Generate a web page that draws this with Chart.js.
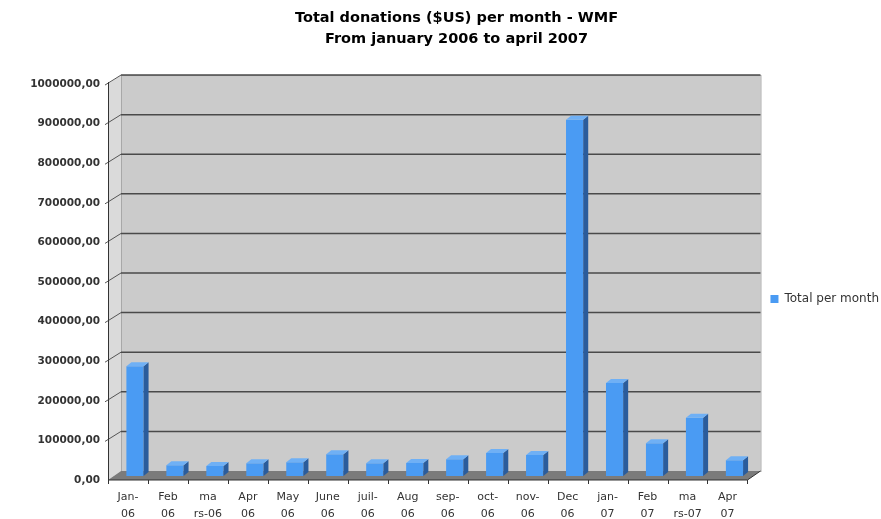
<!DOCTYPE html>
<html>
<head>
<meta charset="utf-8">
<title>Total donations per month - WMF</title>
<script src="https://cdn.jsdelivr.net/npm/chart.js@4/dist/chart.umd.min.js"></script>
<style>
  html, body { margin: 0; padding: 0; background: #fff; }
  #wrap { width: 881px; height: 519px; }
</style>
</head>
<body>
<div id="wrap"><canvas id="donationsChart" width="881" height="519"></canvas></div>
<script>
// Total donations ($US) per month - WMF, Jan 2006 .. Apr 2007
var months = [
    ['Jan-', '06'], ['Feb', '06'], ['ma', 'rs-06'], ['Apr', '06'],
    ['May', '06'], ['June', '06'], ['juil-', '06'], ['Aug', '06'],
    ['sep-', '06'], ['oct-', '06'], ['nov-', '06'], ['Dec', '06'],
    ['jan-', '07'], ['Feb', '07'], ['ma', 'rs-07'], ['Apr', '07']
];
var totals = [
    277000, 27000, 25000, 32000,
    35000, 55000, 32000, 33000,
    42000, 58000, 53000, 900000,
    235000, 83000, 147000, 40000
];
var yTicks = [0, 100000, 200000, 300000, 400000, 500000, 600000, 700000, 800000, 900000, 1000000];

var DEPTH_X = 13, DEPTH_Y = -9;   // back wall offset
var BAR_D = 5;                    // bar side depth

function fmt(v) {
    return String(v) + ',00';
}

// back wall, floor and slanted grid of the old 3D look
var wallPlugin = {
    id: 'wall3d',
    beforeDatasetsDraw: function (chart) {
        var ctx = chart.ctx, a = chart.chartArea, y = chart.scales.y;
        ctx.save();
        // left side wall
        ctx.fillStyle = '#dadada';
        ctx.beginPath();
        ctx.moveTo(a.left, a.top);
        ctx.lineTo(a.left + DEPTH_X, a.top + DEPTH_Y);
        ctx.lineTo(a.left + DEPTH_X, a.bottom + DEPTH_Y);
        ctx.lineTo(a.left, a.bottom);
        ctx.closePath();
        ctx.fill();
        // back wall
        ctx.fillStyle = '#cbcbcb';
        ctx.fillRect(a.left + DEPTH_X, a.top + DEPTH_Y, a.right - a.left, a.bottom - a.top);
        ctx.strokeStyle = '#a8a8a8';
        ctx.lineWidth = 1;
        ctx.strokeRect(a.left + DEPTH_X + 0.5, a.top + DEPTH_Y + 0.5, a.right - a.left, a.bottom - a.top);
        // floor
        ctx.fillStyle = '#7b7b7b';
        ctx.beginPath();
        ctx.moveTo(a.left, a.bottom);
        ctx.lineTo(a.left + DEPTH_X, a.bottom + DEPTH_Y);
        ctx.lineTo(a.right + DEPTH_X, a.bottom + DEPTH_Y);
        ctx.lineTo(a.right, a.bottom);
        ctx.closePath();
        ctx.fill();
        // gridlines
        yTicks.forEach(function (t) {
            if (t === 0) return;
            var py = y.getPixelForValue(t);
            ctx.strokeStyle = '#4a4a4a';
            ctx.lineWidth = 1.5;
            ctx.beginPath();
            ctx.moveTo(a.left + DEPTH_X, py + DEPTH_Y);
            ctx.lineTo(a.right + DEPTH_X, py + DEPTH_Y);
            ctx.stroke();
            ctx.strokeStyle = '#555';
            ctx.lineWidth = 1;
            ctx.beginPath();
            ctx.moveTo(a.left - 3, py + 1);
            ctx.lineTo(a.left + DEPTH_X, py + DEPTH_Y);
            ctx.stroke();
        });
        // front axes
        ctx.strokeStyle = '#333';
        ctx.lineWidth = 1;
        ctx.beginPath();
        ctx.moveTo(a.left + 0.5, a.top - 2);
        ctx.lineTo(a.left + 0.5, a.bottom);
        ctx.lineTo(a.right, a.bottom);
        ctx.lineTo(a.right + DEPTH_X, a.bottom + DEPTH_Y);
        ctx.stroke();
        var x = chart.scales.x;
        var step = x.getPixelForValue(1) - x.getPixelForValue(0);
        for (var i = 0; i <= months.length; i++) {
            var px = i < months.length ? x.getPixelForValue(i) - step / 2 : a.right;
            ctx.beginPath();
            ctx.moveTo(Math.round(px) + 0.5, a.bottom);
            ctx.lineTo(Math.round(px) + 0.5, a.bottom + 4);
            ctx.stroke();
        }
        ctx.restore();
        // bars sit halfway into the depth
        chart.ctx.save();
        chart.ctx.translate(Math.round(DEPTH_X / 2), Math.round(DEPTH_Y / 2));
    },
    afterDatasetsDraw: function (chart) {
        var ctx = chart.ctx;
        var meta = chart.getDatasetMeta(0);
        meta.data.forEach(function (bar) {
            var p = bar.getProps(['x', 'y', 'base', 'width'], true);
            var l = p.x - p.width / 2, r = p.x + p.width / 2;
            ctx.fillStyle = '#2a5c9c';
            ctx.beginPath();
            ctx.moveTo(r, p.y);
            ctx.lineTo(r + BAR_D, p.y - BAR_D * 0.8);
            ctx.lineTo(r + BAR_D, p.base - BAR_D * 0.8);
            ctx.lineTo(r, p.base);
            ctx.closePath();
            ctx.fill();
            ctx.fillStyle = '#6fb0f5';
            ctx.beginPath();
            ctx.moveTo(l, p.y);
            ctx.lineTo(l + BAR_D, p.y - BAR_D * 0.8);
            ctx.lineTo(r + BAR_D, p.y - BAR_D * 0.8);
            ctx.lineTo(r, p.y);
            ctx.closePath();
            ctx.fill();
        });
        ctx.restore();
    }
};

new Chart(document.getElementById('donationsChart').getContext('2d'), {
    type: 'bar',
    data: {
        labels: months,
        datasets: [{
            label: 'Total per month',
            data: totals,
            backgroundColor: '#4a9bf3',
            borderWidth: 0,
            barPercentage: 0.43,
            categoryPercentage: 1.0
        }]
    },
    options: {
        responsive: false,
        animation: false,
        layout: { padding: { left: 24, right: -8, top: 0, bottom: 0 } },
        scales: {
            x: {
                grid: { display: false, drawTicks: false },
                border: { display: false },
                ticks: {
                    color: '#333',
                    padding: 9,
                    maxRotation: 0,
                    autoSkip: false,
                    font: { family: 'DejaVu Sans', size: 11, lineHeight: 1.5 }
                },
                afterFit: function (s) { s.height = 39; }
            },
            y: {
                min: 0,
                max: 1000000,
                grid: { display: false, drawTicks: false },
                border: { display: false },
                afterBuildTicks: function (s) {
                    s.ticks = yTicks.map(function (v) { return { value: v }; });
                },
                ticks: {
                    color: '#333',
                    padding: 8,
                    font: { family: 'DejaVu Sans', size: 10.5, weight: 'bold' },
                    callback: function (v) { return fmt(v); }
                },
                afterFit: function (s) { s.width = 84; }
            }
        },
        plugins: {
            title: {
                display: true,
                text: ['Total donations ($US) per month - WMF', 'From january 2006 to april 2007'],
                color: '#000',
                font: { family: 'DejaVu Sans', size: 14.5, weight: 'bold', lineHeight: 1.45 },
                padding: { top: 8, bottom: 34 }
            },
            legend: {
                position: 'right',
                fullSize: false,
                title: {
                    display: true,
                    text: ' ',
                    font: { size: 12, lineHeight: 1 },
                    padding: { top: 11, bottom: 11 }
                },
                labels: {
                    color: '#333',
                    boxWidth: 8,
                    boxHeight: 8,
                    padding: 23,
                    font: { family: 'DejaVu Sans', size: 12 }
                }
            },
            tooltip: { enabled: false }
        }
    },
    plugins: [wallPlugin]
});
</script>
</body>
</html>
